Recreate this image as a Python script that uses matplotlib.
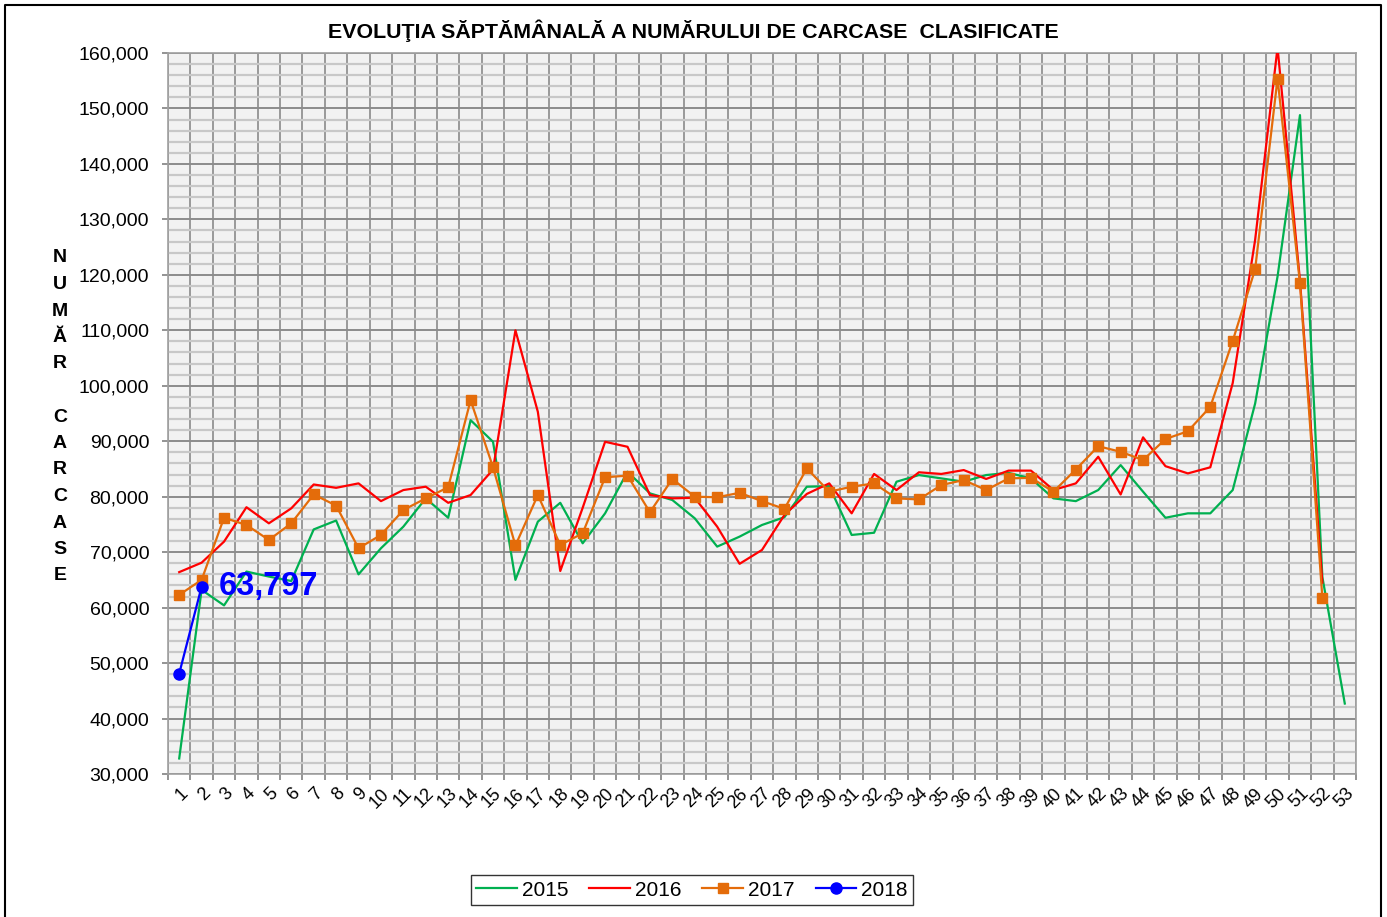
import matplotlib
matplotlib.use("Agg")
import matplotlib.pyplot as plt
from matplotlib.ticker import FuncFormatter, MultipleLocator, FixedLocator
from matplotlib.lines import Line2D

plt.rcParams['font.family'] = ['Liberation Sans', 'DejaVu Sans']

weeks = list(range(1, 54))

s2015 = [32800, 63200, 60400, 66500, 65600, 64800, 74100, 75700, 66000, 70700,
         74600, 79700, 76200, 93800, 89900, 65000, 75500, 78900, 71600, 77000,
         84500, 80600, 79400, 76100, 71000, 72800, 74900, 76300, 81800, 81900,
         73100, 73500, 82700, 83900, 83300, 82700, 83900, 84300, 83300, 79700,
         79200, 81200, 85700, 80900, 76200, 77000, 77000, 81200, 96800, 119700,
         148800, 65500, 42700]
s2016 = [66400, 68100, 71900, 78100, 75200, 77900, 82200, 81600, 82400, 79200,
         81200, 81800, 78900, 80300, 84900, 110000, 95300, 66600, 78000, 89900,
         89000, 80300, 79700, 79800, 74600, 67900, 70400, 76700, 80500, 82400,
         77000, 84100, 81200, 84400, 84100, 84800, 83200, 84700, 84700, 81200,
         82400, 87200, 80400, 90700, 85500, 84200, 85300, 100500, 126300, 161000,
         119000, 64500]
s2017 = [62300, 65000, 76200, 74900, 72200, 75200, 80400, 78400, 70700, 73100,
         77600, 79700, 81700, 97400, 85300, 71200, 80300, 71300, 73400, 83500,
         83800, 77200, 83200, 80000, 79900, 80700, 79200, 77800, 85100, 80900,
         81800, 82400, 79700, 79500, 82100, 83000, 81200, 83300, 83400, 80900,
         84900, 89100, 88100, 86600, 90400, 91800, 96200, 108100, 121000, 155400,
         118500, 61700]
s2018 = [48100, 63797]

title = "EVOLUŢIA SĂPTĂMÂNALĂ A NUMĂRULUI DE CARCASE  CLASIFICATE"
ylabel_letters = ["N", "U", "M", "Ă", "R", "", "C", "A", "R", "C", "A", "S", "E"]
annot_text = "63,797"

W, H = 1387, 917
fig = plt.figure(figsize=(W / 100, H / 100), dpi=100)
ax = fig.add_axes([168 / W, 1 - 774 / H, (1356 - 168) / W, (774 - 53) / H])
ax.set_facecolor('#F2F2F2')

ax.plot(weeks[:len(s2015)], s2015, color='#00B050', lw=1.6, label='2015', zorder=3)
ax.plot(weeks[:len(s2016)], s2016, color='#FF0000', lw=1.6, label='2016', zorder=3)
ax.plot(weeks[:len(s2017)], s2017, color='#E46C0A', lw=1.6, marker='s', ms=7.5,
        mec='#E46C0A', mfc='#E46C0A', label='2017', zorder=4)
ax.plot(weeks[:len(s2018)], s2018, color='#0000FF', lw=1.6, marker='o', ms=8,
        label='2018', zorder=5)

ax.annotate(annot_text, xy=(weeks[len(s2018) - 1], s2018[-1]), xytext=(12, 0),
            textcoords='offset points', ha='left', va='center',
            fontsize=23.5, fontweight='bold', color='#0000FF', zorder=6)

ax.set_xlim(0.5, 53.5)
ax.set_ylim(30000, 160000)

ax.yaxis.set_major_locator(MultipleLocator(10000))
ax.yaxis.set_minor_locator(MultipleLocator(2000))
ax.yaxis.set_major_formatter(FuncFormatter(lambda v, p: f"{int(v):,}"))

ax.xaxis.set_major_locator(FixedLocator(weeks))
ax.set_xticklabels([str(w) for w in weeks], rotation=45, ha='right',
                   rotation_mode='anchor', fontsize=13)
ax.xaxis.set_minor_locator(FixedLocator([w + 0.5 for w in [0] + weeks]))
ax.tick_params(axis='x', which='major', length=0, pad=8)
ax.tick_params(axis='x', which='minor', length=4.5, color='#808080', width=1.2)
ax.tick_params(axis='y', which='major', length=4.5, color='#808080', width=1.2,
               labelsize=14, pad=9)
ax.tick_params(axis='y', which='minor', length=0)

ax.grid(which='minor', axis='y', color='#C8C8C8', lw=1.6, zorder=0)
ax.grid(which='major', axis='y', color='#8C8C8C', lw=1.4, zorder=1)
ax.grid(which='minor', axis='x', color='#999999', lw=1.4, zorder=1)
ax.grid(which='major', axis='x', visible=False)
ax.set_axisbelow(True)
for sp in ax.spines.values():
    sp.set_color('#A0A0A0')
    sp.set_linewidth(1.2)

fig.text(0.5 * (327 + 1060) / W, 1 - 31 / H, title, ha='center', va='center',
         fontsize=15.4, fontweight='bold')

for i, ch in enumerate(ylabel_letters):
    if ch:
        fig.text(60 / W, 1 - (258 + i * 26.5) / H, ch, ha='center', va='center',
                 fontsize=14, fontweight='bold')

leg = fig.legend(loc='center', bbox_to_anchor=(692 / W, 1 - 890 / H), ncol=4,
                 fontsize=15, frameon=True, fancybox=False, handlelength=1.95,
                 columnspacing=1.0, handletextpad=0.25, borderpad=0.25,
                 borderaxespad=0)
leg.get_frame().set_edgecolor('black')
leg.get_frame().set_linewidth(1.0)

# outer chart border (left, top, right)
bx = [5 / W, 5 / W, 1381 / W, 1381 / W]
by = [-0.01, 1 - 5 / H, 1 - 5 / H, -0.01]
fig.add_artist(Line2D(bx, by, transform=fig.transFigure, color='black', lw=1.5))

fig.savefig('out.png', dpi=100)
